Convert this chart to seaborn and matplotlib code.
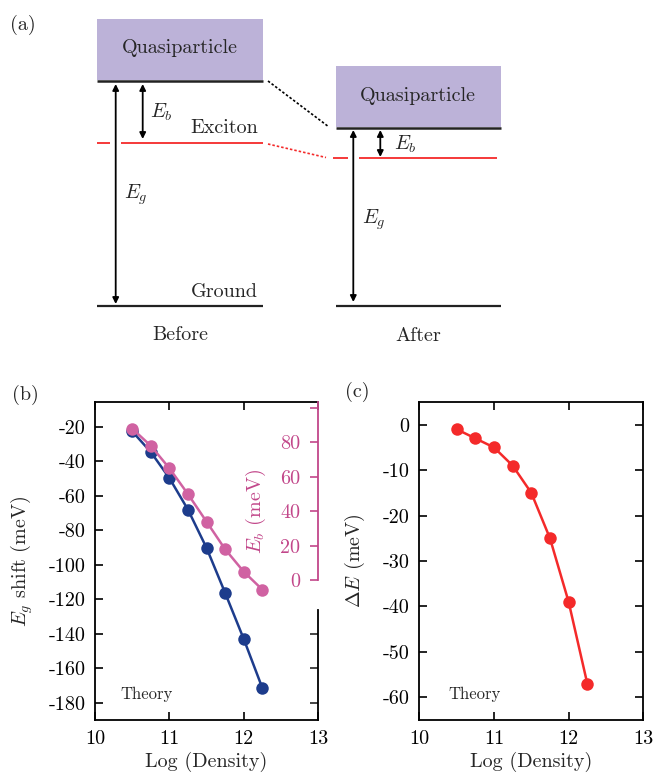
import numpy as np
import pandas as pd
import matplotlib
matplotlib.use("Agg")
import matplotlib.pyplot as plt
import seaborn as sns
from matplotlib.patches import Rectangle

# ---------------- data ----------------
log_density = [10.5, 10.75, 11.0, 11.25, 11.5, 11.75, 12.0, 12.25]
eg_shift = [-22.5, -34.5, -49.6, -67.9, -90.1, -116.2, -142.9, -171.3]
eb_values = [88, 78, 65, 50, 34, 18, 5, -5.4]
delta_e = [-1, -3, -5, -9, -15, -25, -39, -57]
x_ticks = [10, 11, 12, 13]
eg_ticks = [-180, -160, -140, -120, -100, -80, -60, -40, -20]
eb_ticks = [0, 20, 40, 60, 80, 100]
eb_ticklabels = ["0", "20", "40", "60", "80", ""]
de_ticks = [-60, -50, -40, -30, -20, -10, 0]

sns.set_theme(style="ticks")
plt.rcParams["font.family"] = ["cmr10", "DejaVu Serif"]
plt.rcParams["mathtext.fontset"] = "cm"
plt.rcParams["axes.unicode_minus"] = False
plt.rcParams["axes.formatter.use_mathtext"] = False

BLUE = "#1d3c8c"
PINK = "#d062a2"
PINK_AX = "#c2478a"
RED = "#f42a2a"
LAV = "#bcb2d8"

FS = 14.5
fig = plt.figure(figsize=(6.55, 7.76), dpi=100)

# ---------------- panel (a): diagram in pixel coordinates ----------------
axa = fig.add_axes([0, 1 - 360 / 776, 1, 360 / 776])
axa.set_xlim(0, 655)
axa.set_ylim(360, 0)
axa.axis("off")

# before
axa.add_patch(Rectangle((97.3, 19), 165.4, 61, facecolor=LAV, edgecolor="none"))
axa.plot([97.3, 262.7], [80.5, 80.5], color="#222222", lw=1.8, solid_capstyle="butt")
axa.plot([97.3, 262.7], [305.7, 305.7], color="#222222", lw=1.6, solid_capstyle="butt")
axa.plot([97.3, 110], [143.3, 143.3], color=RED, lw=1.3, solid_capstyle="butt")
axa.plot([121, 262.7], [143.3, 143.3], color=RED, lw=1.3, solid_capstyle="butt")
arr = dict(arrowstyle="<|-|>", color="black", lw=1.3, mutation_scale=9, shrinkA=0, shrinkB=0)
axa.annotate("", xy=(115.7, 304), xytext=(115.7, 84), arrowprops=arr)
axa.annotate("", xy=(142.7, 139), xytext=(142.7, 84), arrowprops=arr)
axa.text(180, 48, "Quasiparticle", ha="center", va="center", fontsize=FS)
axa.text(150, 112, r"$E_b$", ha="left", va="center", fontsize=FS)
axa.text(258, 128, "Exciton", ha="right", va="center", fontsize=FS)
axa.text(124, 195, r"$E_g$", ha="left", va="center", fontsize=FS)
axa.text(258, 292, "Ground", ha="right", va="center", fontsize=FS)
axa.text(180, 335, "Before", ha="center", va="center", fontsize=FS)

# connectors
axa.plot([268, 329], [81, 127], color="black", lw=1.2, ls=(0, (1.5, 1.2)))
axa.plot([268, 326], [144, 157.5], color=RED, lw=1.2, ls=(0, (1.5, 1.2)))

# after
axa.add_patch(Rectangle((335.7, 65.7), 165, 61.6, facecolor=LAV, edgecolor="none"))
axa.plot([335.7, 500.7], [127.5, 127.5], color="#222222", lw=1.8, solid_capstyle="butt")
axa.plot([335.7, 500.7], [306, 306], color="#222222", lw=1.6, solid_capstyle="butt")
axa.plot([333, 348], [158.3, 158.3], color=RED, lw=1.3, solid_capstyle="butt")
axa.plot([359, 497], [158.3, 158.3], color=RED, lw=1.3, solid_capstyle="butt")
axa.annotate("", xy=(353.3, 302), xytext=(353.3, 130), arrowprops=arr)
axa.annotate("", xy=(380.3, 157), xytext=(380.3, 130), arrowprops=arr)
axa.text(418, 96, "Quasiparticle", ha="center", va="center", fontsize=FS)
axa.text(394, 144, r"$E_b$", ha="left", va="center", fontsize=FS)
axa.text(362, 220, r"$E_g$", ha="left", va="center", fontsize=FS)
axa.text(418, 336, "After", ha="center", va="center", fontsize=FS)

fig.text(10 / 655, 1 - 25 / 776, "(a)", ha="left", va="center", fontsize=FS)

# ---------------- panel (b) ----------------
H = 318 / 776
B = 56 / 776
axb = fig.add_axes([95 / 655, B, 223 / 655, H])
df_b = pd.DataFrame({"x": log_density, "eg": eg_shift, "eb": eb_values})
sns.lineplot(data=df_b, x="x", y="eg", ax=axb, color=BLUE, marker="o",
             markersize=9, markeredgewidth=0, linewidth=1.8)
EG_LIM = (-190, -5.5)
OFF = 108.9
axb.set_xlim(10, 13)
axb.set_ylim(*EG_LIM)
axb.set_xticks(x_ticks)
axb.set_yticks(eg_ticks)
axb.tick_params(direction="in", length=6, width=1.2, labelsize=FS, pad=7,
                top=True, right=False, colors="black")
axb.set_xlabel("Log (Density)", fontsize=FS, labelpad=3)
axb.set_ylabel(r"$E_g$ shift (meV)", fontsize=FS)
axb.yaxis.set_label_coords(-0.27, 0.5)
for s in ["left", "bottom", "top"]:
    axb.spines[s].set_linewidth(1.3)
    axb.spines[s].set_color("black")
axb.spines["right"].set_visible(False)
axb.text(10.34, -175.2, "Theory", fontsize=12, ha="left", va="center")

sec = axb.secondary_yaxis("right")
sec.set_yticks([-180, -160, -140])
sec.tick_params(direction="in", length=6, width=1.2, labelright=False)
sec.spines["right"].set_bounds(-190, -126)
sec.spines["right"].set_linewidth(1.3)
sec.spines["right"].set_color("black")

ax2 = axb.twinx()
sns.lineplot(data=df_b, x="x", y="eb", ax=ax2, color=PINK, marker="o",
             markersize=9, markeredgewidth=0, linewidth=1.8)
ax2.set_ylim(EG_LIM[0] + OFF, EG_LIM[1] + OFF)
ax2.set_yticks(eb_ticks)
ax2.set_yticklabels(eb_ticklabels)
ax2.tick_params(axis="y", direction="in", length=6, width=1.2, labelsize=FS,
                pad=-13, colors=PINK_AX)
for lab in ax2.get_yticklabels():
    lab.set_horizontalalignment("right")
for s in ["left", "top", "bottom"]:
    ax2.spines[s].set_visible(False)
ax2.spines["right"].set_bounds(0, EG_LIM[1] + OFF)
ax2.spines["right"].set_color(PINK_AX)
ax2.spines["right"].set_linewidth(1.3)
ax2.set_ylabel(r"$E_b$ (meV)", fontsize=FS, color=PINK_AX, rotation=90,
               va="center", ha="center")
ax2.yaxis.set_label_coords(0.72, 0.657)
fig.text(12 / 655, 1 - 395 / 776, "(b)", ha="left", va="center", fontsize=FS)

# ---------------- panel (c) ----------------
axc = fig.add_axes([419.3 / 655, B, 224 / 655, H])
df_c = pd.DataFrame({"x": log_density, "de": delta_e})
sns.lineplot(data=df_c, x="x", y="de", ax=axc, color=RED, marker="o",
             markersize=9, markeredgewidth=0, linewidth=1.8)
axc.set_xlim(10, 13)
axc.set_ylim(-65, 5)
axc.set_xticks(x_ticks)
axc.set_yticks(de_ticks)
axc.tick_params(direction="in", length=6, width=1.2, labelsize=FS, pad=7,
                top=True, right=True, colors="black")
axc.set_xlabel("Log (Density)", fontsize=FS, labelpad=3)
axc.set_ylabel(r"$\Delta E$ (meV)", fontsize=FS)
axc.yaxis.set_label_coords(-0.235, 0.5)
for s in axc.spines.values():
    s.set_linewidth(1.3)
    s.set_color("black")
axc.text(10.39, -59.4, "Theory", fontsize=12, ha="left", va="center")
fig.text(345 / 655, 1 - 392 / 776, "(c)", ha="left", va="center", fontsize=FS)

fig.savefig("out.png", dpi=100)
